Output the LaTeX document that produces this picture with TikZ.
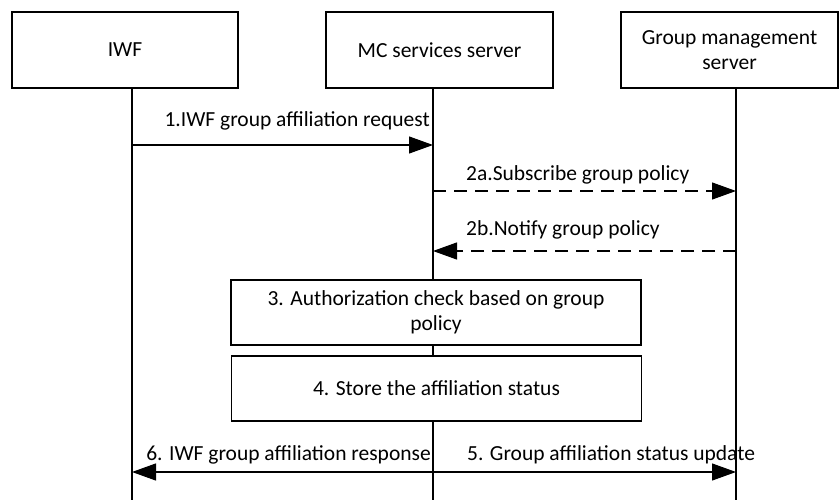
\documentclass[tikz,border=0pt]{standalone}
\usepackage{fontspec}
\setmainfont{Carlito}
\usetikzlibrary{arrows.meta}
\usetikzlibrary{positioning}

\tikzset{
  actor/.style={draw, fill=white, line width=1.2pt, minimum height=76pt, align=center, inner sep=2pt},
  proc/.style={draw, fill=white, line width=1.2pt, minimum width=410pt, minimum height=65pt, align=center, inner sep=2pt},
  life/.style={line width=1.2pt},
  msg/.style={line width=1.2pt, ->},
  ask/.style={msg, dash pattern=on 13pt off 8pt},
  lbl/.style={inner sep=0pt},
}

\begin{document}
\begin{tikzpicture}[x=1pt, y=-1pt, >={Triangle[length=24pt, width=17pt]}, font=\fontsize{21.5}{25}\selectfont]

    \useasboundingbox (0,0) rectangle (839,500);

    % participants
    \node[actor, minimum width=226pt] (iwf) at (125,50) {IWF};
    \node[actor, minimum width=227pt] (mc) at (439.5,50) {MC services server};
    \node[actor, minimum width=217pt] (gm) at (729.5,50) {Group management\\server};

    \coordinate (iwfl) at ([xshift=7pt]iwf.south);
    \coordinate (mcl) at ([xshift=-6.5pt]mc.south);
    \coordinate (gml) at ([xshift=6.5pt]gm.south);

    % lifelines
    \draw[life] (iwfl) -- (iwfl |- 0,500);
    \draw[life] (mcl) -- (mcl |- 0,500);
    \draw[life] (gml) -- (gml |- 0,500);

    % message points
    \coordinate (iwf1) at (iwfl |- 0,145);
    \coordinate (mc1) at (mcl |- 0,145);
    \coordinate (mc2) at (mcl |- 0,191);
    \coordinate (gm2) at (gml |- 0,191);
    \coordinate (mc3) at (mcl |- 0,251);
    \coordinate (gm3) at (gml |- 0,251);
    \coordinate (iwf5) at (iwfl |- 0,472);
    \coordinate (mc5) at (mcl |- 0,472);
    \coordinate (gm5) at (gml |- 0,472);

    \draw[msg] (iwf1) -- (mc1);
    \node[lbl, above left=15pt and 3pt of mc1] {1.IWF group affiliation request};

    \draw[ask] (mc2) -- (gm2);
    \node[lbl, above right=7pt and 33pt of mc2] {2a.Subscribe group policy};

    \draw[ask] (gm3) -- (mc3);
    \node[lbl, above right=12pt and 33pt of mc3] {2b.Notify group policy};

    % local steps
    \node[proc] (auth) at (436,312.5) {3. Authorization check based on group\\policy};
    \node[proc] (store) at (436.5,388.5) {4. Store the affiliation status};

    \draw[msg] (mc5) -- (gm5);
    \node[lbl, above right=8pt and 34pt of mc5] {5. Group affiliation status update};

    \draw[msg] (mc5) -- (iwf5);
    \node[lbl, above left=8pt and 2pt of mc5] {6. IWF group affiliation response};

\end{tikzpicture}
\end{document}
